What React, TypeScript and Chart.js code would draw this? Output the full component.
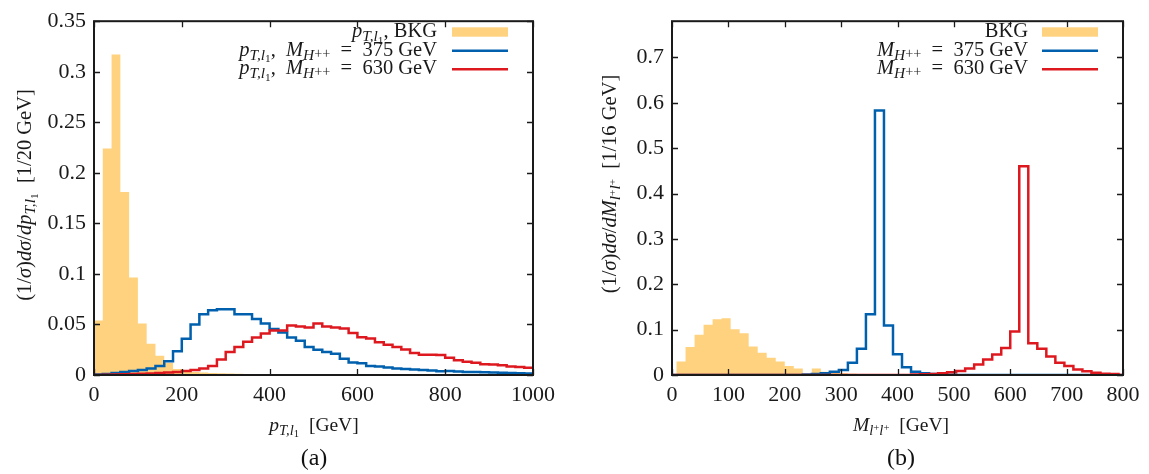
import React, { useEffect, useRef } from 'react';
import { Chart, registerables } from 'chart.js';
Chart.register(...registerables);

const FONT = '"Liberation Serif", "Times New Roman", serif';
const BKG_COLOR = '#fed27f';
const BLUE = '#0060ad';
const RED = '#dd181f';

// ---------- Panel (a): p_T,l1, 20 GeV bins from 0 ----------
const ptBinStart = 0;
const ptBinWidth = 20;
const ptTicksX = [0, 200, 400, 600, 800, 1000];
const ptTicksY = [0, 0.05, 0.1, 0.15, 0.2, 0.25, 0.3, 0.35];
const ptBkg = [
  0.054, 0.224, 0.317, 0.181, 0.0965, 0.051, 0.031, 0.019, 0.012, 0.006,
  0.004, 0.003, 0.0025, 0.002, 0.0018, 0.0015, 0.0012, 0.001, 0.0008, 0.0006,
  0.0005, 0.0004, 0.0003, 0.0002, 0.0002, 0.0001, 0.0001, 0, 0, 0,
  0, 0, 0, 0, 0, 0, 0, 0, 0, 0,
  0, 0, 0, 0, 0, 0, 0, 0, 0, 0,
];
const ptSig375 = [
  0.0005, 0.001, 0.002, 0.003, 0.004, 0.005, 0.0065, 0.0088, 0.0137, 0.0234,
  0.0358, 0.05, 0.06, 0.064, 0.065, 0.065, 0.06, 0.06, 0.0553, 0.051,
  0.0455, 0.042, 0.037, 0.034, 0.0276, 0.025, 0.0227, 0.021, 0.016, 0.0124,
  0.0117, 0.009, 0.0084, 0.0075, 0.0065, 0.006, 0.0055, 0.005, 0.0045, 0.0037,
  0.004, 0.0035, 0.003, 0.003, 0.0028, 0.0025, 0.0022, 0.002, 0.0018, 0.0016,
];
const ptSig630 = [
  0, 0.0003, 0.0005, 0.0008, 0.001, 0.0013, 0.0016, 0.002, 0.0025, 0.003,
  0.004, 0.005, 0.0065, 0.009, 0.0153, 0.0227, 0.0276, 0.033, 0.037, 0.041,
  0.044, 0.044, 0.049, 0.048, 0.047, 0.051, 0.048, 0.047, 0.046, 0.0416,
  0.0374, 0.036, 0.0325, 0.03, 0.0276, 0.0253, 0.0218, 0.02, 0.02, 0.0198,
  0.017, 0.0146, 0.013, 0.012, 0.0107, 0.0105, 0.0097, 0.0084, 0.008, 0.0071,
];

// ---------- Panel (b): M_l+l+, 16 GeV bins from 8 ----------
const mllBinStart = 8;
const mllBinWidth = 16;
const mllTicksX = [0, 100, 200, 300, 400, 500, 600, 700, 800];
const mllTicksY = [0, 0.1, 0.2, 0.3, 0.4, 0.5, 0.6, 0.7];
const mllBkg = [
  0.03, 0.062, 0.089, 0.111, 0.123, 0.125, 0.101, 0.092, 0.063, 0.049,
  0.038, 0.03, 0.02, 0.0145, 0.002, 0.0145, 0.007, 0.005, 0.004, 0.003,
  0.002, 0.002, 0.001, 0.001, 0.0005, 0, 0, 0, 0, 0,
  0, 0, 0, 0, 0, 0, 0, 0, 0, 0,
  0, 0, 0, 0, 0, 0, 0, 0, 0,
];
const mllSig375 = [
  0, 0, 0, 0, 0, 0, 0, 0, 0, 0,
  0, 0, 0, 0, 0.001, 0.002, 0.004, 0.007, 0.011, 0.027,
  0.058, 0.134, 0.583, 0.109, 0.046, 0.017, 0.007, 0.004, 0.002, 0.001,
  0.0005, 0, 0, 0, 0, 0, 0, 0, 0, 0,
  0, 0, 0, 0, 0, 0, 0, 0, 0,
];
const mllSig630 = [
  0, 0, 0, 0, 0, 0, 0, 0, 0, 0,
  0, 0, 0, 0, 0, 0, 0, 0, 0, 0,
  0, 0, 0, 0, 0, 0, 0.001, 0.0015, 0.002, 0.004,
  0.006, 0.0087, 0.0145, 0.023, 0.034, 0.045, 0.0594, 0.0957, 0.46, 0.07,
  0.058, 0.041, 0.027, 0.0196, 0.012, 0.008, 0.005, 0.003, 0.002,
];

// ---------- rich text ----------
type Seg = { t: string; it?: boolean; s?: number; dy?: number };

const pT: Seg[] = [
  { t: 'p', it: true },
  { t: 'T,l', it: true, s: 0.75, dy: 0.2 },
  { t: '1', s: 0.55, dy: 0.32 },
];
const MH: Seg[] = [
  { t: 'M', it: true },
  { t: 'H', it: true, s: 0.75, dy: 0.2 },
  { t: '++', s: 0.7, dy: 0.1 },
];
const Mll: Seg[] = [
  { t: 'M', it: true },
  { t: 'l', it: true, s: 0.75, dy: 0.2 },
  { t: '+', s: 0.55, dy: 0.0 },
  { t: 'l', it: true, s: 0.75, dy: 0.2 },
  { t: '+', s: 0.55, dy: 0.0 },
];
const dsig: Seg[] = [
  { t: '(1/' },
  { t: 'σ', it: true },
  { t: ')' },
  { t: 'dσ', it: true },
  { t: '/' },
  { t: 'd', it: true },
];

function fontFor(seg: Seg, size: number) {
  const px = size * (seg.s ?? 1);
  return `${seg.it ? 'italic ' : ''}${px.toFixed(1)}px ${FONT}`;
}
function richWidth(ctx: CanvasRenderingContext2D, segs: Seg[], size: number) {
  let w = 0;
  for (const s of segs) {
    ctx.font = fontFor(s, size);
    w += ctx.measureText(s.t).width;
  }
  return w;
}
function drawRich(
  ctx: CanvasRenderingContext2D,
  segs: Seg[],
  x: number,
  y: number,
  size: number,
  align: 'left' | 'center' | 'right'
) {
  const w = richWidth(ctx, segs, size);
  let cx = align === 'left' ? x : align === 'right' ? x - w : x - w / 2;
  ctx.textBaseline = 'alphabetic';
  ctx.textAlign = 'left';
  for (const s of segs) {
    ctx.font = fontFor(s, size);
    ctx.fillText(s.t, cx, y + (s.dy ?? 0) * size);
    cx += ctx.measureText(s.t).width;
  }
}

function stepPoints(values: number[], start: number, width: number, xmin: number, xmax: number) {
  const pts: { x: number; y: number }[] = [];
  if (start > xmin) pts.push({ x: xmin, y: 0 });
  values.forEach((v, i) => pts.push({ x: start + i * width, y: v }));
  const end = start + values.length * width;
  pts.push({ x: end, y: values[values.length - 1] });
  if (end < xmax) {
    pts.push({ x: end, y: 0 });
    pts.push({ x: xmax, y: 0 });
  }
  return pts;
}

interface PanelCfg {
  canvasLeft: number;
  canvasWidth: number;
  plotLeft: number;
  plotRight: number;
  xMin: number;
  xMax: number;
  yMax: number;
  xTicks: number[];
  yTicks: number[];
  bkg: number[];
  s375: number[];
  s630: number[];
  binStart: number;
  binWidth: number;
  legendRows: Seg[][];
  legendTextRight: number;
  legendSample: [number, number];
  yTitle: Seg[];
  yTitleX: number;
  yTitleY: number;
  xTitle: Seg[];
  xTitleX: number;
  caption: string;
}

const H = 474;
const PLOT_TOP = 16;
const PLOT_BOTTOM = 375;

function Panel({ cfg }: { cfg: PanelCfg }) {
  const ref = useRef<HTMLCanvasElement | null>(null);
  useEffect(() => {
    if (!ref.current) return;
    const decor = {
      id: 'decor',
      afterDraw(chart: any) {
        const { ctx, chartArea: a, scales } = chart;
        ctx.save();
        ctx.strokeStyle = '#1a1a1a';
        ctx.lineWidth = 1.3;
        ctx.beginPath();
        for (const v of cfg.xTicks) {
          const px = Math.round(scales.x.getPixelForValue(v)) + 0.5;
          ctx.moveTo(px, a.bottom);
          ctx.lineTo(px, a.bottom - 6);
          ctx.moveTo(px, a.top);
          ctx.lineTo(px, a.top + 6);
        }
        for (const v of cfg.yTicks) {
          const py = Math.round(scales.y.getPixelForValue(v)) + 0.5;
          ctx.moveTo(a.left, py);
          ctx.lineTo(a.left + 6, py);
          ctx.moveTo(a.right, py);
          ctx.lineTo(a.right - 6, py);
        }
        ctx.stroke();
        ctx.lineWidth = 2;
        ctx.strokeRect(a.left, a.top, a.right - a.left, a.bottom - a.top);

        // legend
        const rowBase = [37, 55.5, 74];
        const rowMid = [32, 50.7, 69.3];
        cfg.legendRows.forEach((row, i) => {
          ctx.fillStyle = '#1a1a1a';
          drawRich(ctx, row, cfg.legendTextRight, rowBase[i], 20.5, 'right');
          const [x0, x1] = cfg.legendSample;
          if (i === 0) {
            ctx.fillStyle = BKG_COLOR;
            ctx.fillRect(x0, rowMid[i] - 4.7, x1 - x0, 9.4);
          } else {
            ctx.strokeStyle = i === 1 ? BLUE : RED;
            ctx.lineWidth = 2.5;
            ctx.beginPath();
            ctx.moveTo(x0, rowMid[i]);
            ctx.lineTo(x1, rowMid[i]);
            ctx.stroke();
          }
        });

        // titles
        ctx.fillStyle = '#1a1a1a';
        drawRich(ctx, cfg.xTitle, cfg.xTitleX, 431, 19.5, 'center');
        ctx.save();
        ctx.translate(cfg.yTitleX, cfg.yTitleY);
        ctx.rotate(-Math.PI / 2);
        drawRich(ctx, cfg.yTitle, 0, 0, 20.5, 'center');
        ctx.restore();
        ctx.font = `24px ${FONT}`;
        ctx.textAlign = 'center';
        ctx.textBaseline = 'alphabetic';
        ctx.fillStyle = '#111';
        ctx.fillText(cfg.caption, cfg.xTitleX, 465);
        ctx.restore();
      },
    };

    const chart = new Chart(ref.current, {
      type: 'line',
      data: {
        datasets: [
          {
            label: '630',
            data: stepPoints(cfg.s630, cfg.binStart, cfg.binWidth, cfg.xMin, cfg.xMax),
            borderColor: RED,
            borderWidth: 2.5,
            pointRadius: 0,
            stepped: 'before',
            fill: false,
            order: 1,
          },
          {
            label: '375',
            data: stepPoints(cfg.s375, cfg.binStart, cfg.binWidth, cfg.xMin, cfg.xMax),
            borderColor: BLUE,
            borderWidth: 2.5,
            pointRadius: 0,
            stepped: 'before',
            fill: false,
            order: 2,
          },
          {
            label: 'BKG',
            data: stepPoints(cfg.bkg, cfg.binStart, cfg.binWidth, cfg.xMin, cfg.xMax),
            borderColor: BKG_COLOR,
            backgroundColor: BKG_COLOR,
            borderWidth: 0,
            pointRadius: 0,
            stepped: 'before',
            fill: 'origin',
            order: 3,
          },
        ] as any,
      },
      options: {
        animation: false,
        responsive: false,
        devicePixelRatio: 1,
        events: [],
        layout: {
          padding: { left: 0, right: cfg.canvasWidth - cfg.plotRight, top: PLOT_TOP, bottom: 0 },
        },
        plugins: { legend: { display: false }, tooltip: { enabled: false } },
        scales: {
          x: {
            type: 'linear',
            min: cfg.xMin,
            max: cfg.xMax,
            grid: { display: false, drawTicks: false },
            border: { display: false },
            afterFit: (s: any) => {
              s.height = H - PLOT_BOTTOM;
            },
            afterBuildTicks: (s: any) => {
              s.ticks = cfg.xTicks.map((v) => ({ value: v }));
            },
            ticks: {
              autoSkip: false,
              maxRotation: 0,
              padding: 7,
              color: '#1a1a1a',
              font: { family: FONT, size: 22 },
              callback: (v: any) => String(v),
            },
          },
          y: {
            type: 'linear',
            min: 0,
            max: cfg.yMax,
            grid: { display: false, drawTicks: false },
            border: { display: false },
            afterFit: (s: any) => {
              s.width = cfg.plotLeft;
            },
            afterBuildTicks: (s: any) => {
              s.ticks = cfg.yTicks.map((v) => ({ value: v }));
            },
            ticks: {
              autoSkip: false,
              padding: 8,
              color: '#1a1a1a',
              font: { family: FONT, size: 22 },
              callback: (v: any) => {
                const n = Number(v);
                return Math.abs(n) < 1e-9 ? '0' : String(parseFloat(n.toFixed(2)));
              },
            },
          },
        },
      } as any,
      plugins: [decor],
    });
    return () => chart.destroy();
  }, [cfg]);
  return (
    <canvas
      ref={ref}
      width={cfg.canvasWidth}
      height={H}
      style={{
        position: 'absolute',
        left: cfg.canvasLeft,
        top: 0,
        width: cfg.canvasWidth,
        height: H,
        display: 'block',
      }}
    />
  );
}

const cfgA: PanelCfg = {
  canvasLeft: 0,
  canvasWidth: 580,
  plotLeft: 94,
  plotRight: 533,
  xMin: 0,
  xMax: 1000,
  yMax: 0.35,
  xTicks: ptTicksX,
  yTicks: ptTicksY,
  bkg: ptBkg,
  s375: ptSig375,
  s630: ptSig630,
  binStart: ptBinStart,
  binWidth: ptBinWidth,
  legendRows: [
    [...pT, { t: ', BKG' }],
    [...pT, { t: ',  ' }, ...MH, { t: '  =  375 GeV' }],
    [...pT, { t: ',  ' }, ...MH, { t: '  =  630 GeV' }],
  ],
  legendTextRight: 437,
  legendSample: [452, 508],
  yTitle: [...dsig, ...pT, { t: '  [1/20 GeV]' }],
  yTitleX: 31,
  yTitleY: 195,
  xTitle: [...pT, { t: '  [GeV]' }],
  xTitleX: 314,
  caption: '(a)',
};

const cfgB: PanelCfg = {
  canvasLeft: 580,
  canvasWidth: 569,
  plotLeft: 92,
  plotRight: 543,
  xMin: 0,
  xMax: 800,
  yMax: 0.78,
  xTicks: mllTicksX,
  yTicks: mllTicksY,
  bkg: mllBkg,
  s375: mllSig375,
  s630: mllSig630,
  binStart: mllBinStart,
  binWidth: mllBinWidth,
  legendRows: [
    [{ t: 'BKG' }],
    [...MH, { t: '  =  375 GeV' }],
    [...MH, { t: '  =  630 GeV' }],
  ],
  legendTextRight: 448,
  legendSample: [462, 518],
  yTitle: [...dsig, ...Mll, { t: '  [1/16 GeV]' }],
  yTitleX: 36,
  yTitleY: 184,
  xTitle: [...Mll, { t: '  [GeV]' }],
  xTitleX: 321,
  caption: '(b)',
};

export default function App() {
  return (
    <div style={{ position: 'fixed', left: 0, top: 0, width: 1149, height: 474, background: '#fff' }}>
      <Panel cfg={cfgA} />
      <Panel cfg={cfgB} />
    </div>
  );
}
